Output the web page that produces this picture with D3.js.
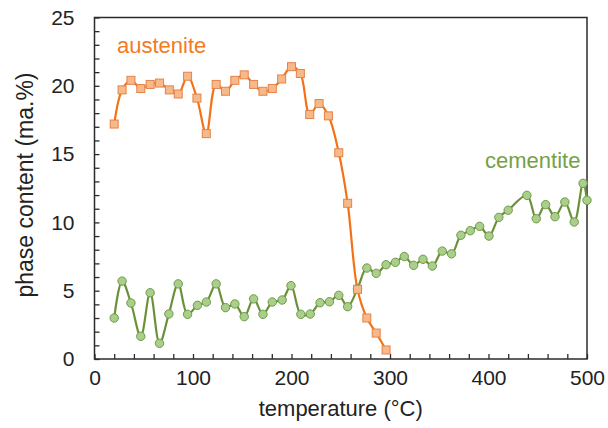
<!DOCTYPE html>
<html>
<head>
<meta charset="utf-8">
<script src="https://cdn.jsdelivr.net/npm/d3@7"></script>
<style>
  html, body { margin: 0; padding: 0; background: #fff; }
  svg { display: block; font-family: "Liberation Sans", Arial, sans-serif; }
</style>
</head>
<body>
<svg id="chart" width="608" height="428"></svg>
<script>
const austeniteT = [20,28,37,47,56.5,66,76,85,94.5,104,113.5,123.5,133,142.5,152,161.5,171,180.5,190,200,209,218.5,228,237.5,248,257,267,276.5,286,296];
const austeniteV = [17.2,19.7,20.4,19.8,20.1,20.2,19.7,19.4,20.7,19.1,16.5,20.1,19.6,20.4,20.8,20.1,19.6,19.8,20.5,21.4,20.9,17.9,18.7,17.8,15.1,11.4,5.1,3.0,1.9,0.66];
const cementiteT = [20,28,37,47,56.5,66,75.5,85,94.5,104.5,113.5,123.5,133,142.5,152,161.5,171,180.5,190.5,199.5,209.5,219,229,238.5,248,257,267,276.5,286,296,305.5,314.5,324,333.5,343,353,362.5,372,381.5,391,400.5,410.5,420,439,448.5,458,467.5,477.5,487,496,500];
const cementiteV = [3.0,5.7,4.1,1.66,4.85,1.15,3.3,5.5,3.27,3.93,4.17,5.5,3.76,4.03,3.1,4.4,3.27,4.17,4.32,5.37,3.27,3.29,4.12,4.19,4.66,3.83,5.15,6.66,6.27,6.9,7.08,7.5,6.86,7.3,6.81,7.9,7.7,9.06,9.39,9.71,9.0,10.37,10.89,11.98,10.27,11.3,10.42,11.49,10.03,12.86,11.62];
const xTickValues = [0,100,200,300,400,500];
const yTickValues = [0,5,10,15,20,25];
const seriesNames = ["austenite","cementite"];
const xTitle = "temperature (°C)";
const yTitle = "phase content (ma.%)";

const svg = d3.select("#chart");
const L = 94.5, R = 587, T = 17.5, B = 359;
const x = d3.scaleLinear().domain([0,500]).range([L,R]);
const y = d3.scaleLinear().domain([0,25]).range([B,T]);

// frame
svg.append("rect").attr("x",L).attr("y",T).attr("width",R-L).attr("height",B-T)
  .attr("fill","none").attr("stroke","#2b2b2b").attr("stroke-width",1.5);

// axes
const yAx = svg.append("g").attr("transform",`translate(${L},0)`)
  .call(d3.axisLeft(y).tickValues(d3.range(0,26,1)).tickSize(-5).tickPadding(20)
    .tickFormat(d => yTickValues.includes(d) ? d : ""));
const xAx = svg.append("g").attr("transform",`translate(0,${B})`)
  .call(d3.axisBottom(x).tickValues(d3.range(0,501,20)).tickSize(-5).tickPadding(11)
    .tickFormat(d => xTickValues.includes(d) ? d : ""));
[yAx,xAx].forEach(g => {
  g.select(".domain").remove();
  g.selectAll(".tick line").attr("stroke","#2b2b2b").attr("stroke-width",1.3);
  g.selectAll(".tick text").attr("fill","#222").style("font-size","21px")
    .style("font-family","'Liberation Sans', Arial, sans-serif");
});

// titles
svg.append("text").attr("x",(L+R)/2).attr("y",416).attr("text-anchor","middle")
  .attr("fill","#222").style("font-size","22px").text(xTitle);
svg.append("text").attr("transform",`translate(33,${(68+302)/2}) rotate(-90)`)
  .attr("text-anchor","middle").attr("fill","#222").style("font-size","23px").text(yTitle);

const line = d3.line().x(d=>x(d[0])).y(d=>y(d[1])).curve(d3.curveCatmullRom.alpha(0.5));
const aData = austeniteT.map((t,i)=>[t,austeniteV[i]]);
const cData = cementiteT.map((t,i)=>[t,cementiteV[i]]);

svg.append("path").datum(cData).attr("d",line).attr("fill","none")
  .attr("stroke","#6b9138").attr("stroke-width",2.2);
svg.append("path").datum(aData).attr("d",line).attr("fill","none")
  .attr("stroke","#f47216").attr("stroke-width",2.2);

svg.append("g").selectAll("circle").data(cData).join("circle")
  .attr("cx",d=>x(d[0])).attr("cy",d=>y(d[1])).attr("r",4.2)
  .attr("fill","#a9cf8a").attr("stroke","#6f9a48").attr("stroke-width",1);
svg.append("g").selectAll("rect").data(aData).join("rect")
  .attr("x",d=>x(d[0])-4).attr("y",d=>y(d[1])-4).attr("width",8).attr("height",8)
  .attr("fill","#f8b988").attr("stroke","#e4834a").attr("stroke-width",1);

// series labels
svg.append("text").attr("x",117).attr("y",53).attr("fill","#f47a1f")
  .style("font-size","22px").text(seriesNames[0]);
svg.append("text").attr("x",485).attr("y",168).attr("fill","#76a046")
  .style("font-size","22px").text(seriesNames[1]);
</script>
</body>
</html>
